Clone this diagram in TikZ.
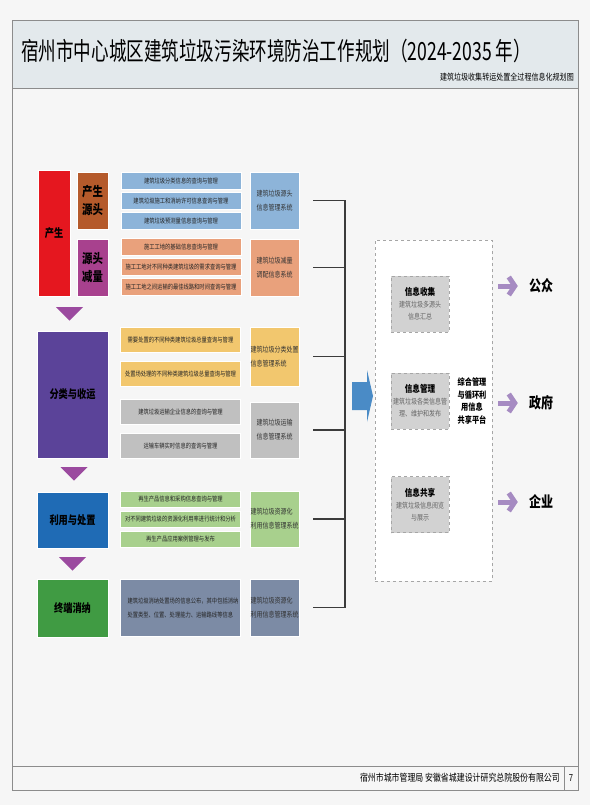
\documentclass[tikz,border=0pt]{standalone}
\usepackage{fontspec}
\setmainfont[FakeStretch=0.8]{Noto Sans CJK SC}
\newfontfamily\titlefont[FakeStretch=0.703]{Noto Sans CJK SC}
\usepackage{xcolor}
\usetikzlibrary{shapes.geometric, arrows.meta, positioning}
\definecolor{pagebg}{RGB}{246,246,246}
\definecolor{titlebg}{RGB}{227,233,236}
\definecolor{framegray}{RGB}{140,140,140}
\definecolor{stagered}{RGB}{229,23,31}
\definecolor{stagebrown}{RGB}{181,90,43}
\definecolor{stagemagenta}{RGB}{168,65,142}
\definecolor{stagepurple}{RGB}{91,67,153}
\definecolor{stageblue}{RGB}{31,107,181}
\definecolor{stagegreen}{RGB}{64,155,67}
\definecolor{itemblue}{RGB}{141,180,217}
\definecolor{itemorange}{RGB}{233,161,124}
\definecolor{itemyellow}{RGB}{242,199,110}
\definecolor{itemgray}{RGB}{192,192,192}
\definecolor{itemgreen}{RGB}{168,208,141}
\definecolor{itemslate}{RGB}{124,139,165}
\definecolor{tripurple}{RGB}{155,74,159}
\definecolor{feedblue}{RGB}{74,139,198}
\definecolor{outpurple}{RGB}{166,139,194}
\definecolor{infogray}{RGB}{210,210,210}
\definecolor{linegray}{RGB}{60,60,60}

\begin{document}
\begin{tikzpicture}[x=1pt, y=-1pt,
    stage/.style={rectangle, draw=white, line width=0.6pt, inner sep=0pt, align=center, font=\fontsize{11.5}{18}\selectfont\bfseries},
    item/.style={rectangle, draw=white, line width=0.6pt, minimum width=120pt, inner sep=0pt, text=black!85, font=\fontsize{6.6}{8}\selectfont},
    sysbox/.style={rectangle, draw=white, line width=0.6pt, minimum width=49pt, inner sep=0pt, text=black!80, font=\fontsize{7.5}{14}\selectfont},
    link/.style={draw=linegray, line width=1.5pt},
    infobox/.style={rectangle, draw=gray!70, dashed, fill=infogray, minimum width=58pt, minimum height=56pt, inner sep=0pt, align=center, text=black!60, font=\fontsize{7.5}{12}\selectfont},
    target/.style={inner sep=0pt, font=\fontsize{15}{16}\selectfont\bfseries},
    outarrow/.style={draw=outpurple, line width=5pt, -{Straight Barb[length=6pt, width=18pt]}}]

    \useasboundingbox[fill=pagebg] (0,0) rectangle (590,805);
    \draw[framegray, line width=0.8pt] (12,20) rectangle (578,790);
    \draw[framegray, line width=0.8pt, fill=titlebg] (12,20) rectangle (578,88);
    \draw[framegray, line width=0.8pt] (12,766) -- (578,766);
    \draw[framegray, line width=0.8pt] (564,766) -- (564,790);

    \node[anchor=west, inner sep=0pt, font=\titlefont\fontsize{25}{28}\selectfont] (title) at (21,51) {宿州市中心城区建筑垃圾污染环境防治工作规划（2024-2035 年）};
    \node[anchor=east, inner sep=0pt, font=\fontsize{8.8}{10}\selectfont] (subtitle) at (574,77) {建筑垃圾收集转运处置全过程信息化规划图};
    \node[anchor=east, inner sep=0pt, font=\fontsize{9.9}{10}\selectfont] (org) at (560,778) {宿州市城市管理局 安徽省城建设计研究总院股份有限公司};
    \node[inner sep=0pt, font=\fontsize{9.6}{10}\selectfont] (page) at (571,778) {7};

    \node[stage, fill=stagered, minimum width=32pt, minimum height=126pt] (prod) at (54,233) {产生};
    \node[stage, fill=stagebrown, minimum width=31pt, minimum height=57pt, font=\fontsize{13}{18}\selectfont\bfseries] (src) at (92.5,200.5) {产生\\源头};
    \node[stage, fill=stagemagenta, minimum width=31pt, minimum height=57pt, font=\fontsize{13}{18}\selectfont\bfseries] (cut) at (92.5,267.5) {源头\\减量};

    \node[item, fill=itemblue, minimum height=17pt] (b1) at (181,180.5) {建筑垃圾分类信息的查询与管理};
    \node[item, fill=itemblue, minimum height=17pt] (b2) at (181,200.5) {建筑垃圾施工和消纳许可信息查询与管理};
    \node[item, fill=itemblue, minimum height=17pt] (b3) at (181,220.5) {建筑垃圾预测量信息查询与管理};
    \node[item, fill=itemorange, minimum height=17pt] (o1) at (181,247) {施工工地的基础信息查询与管理};
    \node[item, fill=itemorange, minimum height=17pt] (o2) at (181,267) {施工工地对不同种类建筑垃圾的需求查询与管理};
    \node[item, fill=itemorange, minimum height=17pt] (o3) at (181,287) {施工工地之间运输的最佳线路和时间查询与管理};
    \node[sysbox, fill=itemblue, minimum height=57pt, align=center] (sysA) at (274.5,200.5) {建筑垃圾源头\\信息管理系统};
    \node[sysbox, fill=itemorange, minimum height=57pt, align=center] (sysB) at (274.5,267.5) {建筑垃圾减量\\调配信息系统};

    \node[stage, fill=stagepurple, minimum width=71pt, minimum height=127pt] (sort) at (72.5,394.5) {分类与收运};
    \node[item, fill=itemyellow, minimum height=25pt] (y1) at (180.5,339.5) {需要处置的不同种类建筑垃圾总量查询与管理};
    \node[item, fill=itemyellow, minimum height=25pt] (y2) at (180.5,373.5) {处置场处理的不同种类建筑垃圾总量查询与管理};
    \node[item, fill=itemgray, minimum height=25pt] (g1) at (180.5,411.5) {建筑垃圾运输企业信息的查询与管理};
    \node[item, fill=itemgray, minimum height=25pt] (g2) at (180.5,445.5) {运输车辆实时信息的查询与管理};
    \node[sysbox, fill=itemyellow, minimum height=59pt, align=left] (sysC) at (274.5,356.5) {建筑垃圾分类处置\\信息管理系统};
    \node[sysbox, fill=itemgray, minimum height=56pt, align=center] (sysD) at (274.5,430) {建筑垃圾运输\\信息管理系统};

    \node[stage, fill=stageblue, minimum width=71pt, minimum height=56pt] (use) at (72.5,520) {利用与处置};
    \node[item, fill=itemgreen, minimum height=16pt] (gr1) at (180.5,499) {再生产品信息和采购信息查询与管理};
    \node[item, fill=itemgreen, minimum height=16pt] (gr2) at (180.5,519) {对不同建筑垃圾的资源化利用率进行统计和分析};
    \node[item, fill=itemgreen, minimum height=16pt] (gr3) at (180.5,539) {再生产品应用案例管理与发布};
    \node[sysbox, fill=itemgreen, minimum height=56pt, align=left] (sysE) at (274.5,519) {建筑垃圾资源化\\利用信息管理系统};

    \node[stage, fill=stagegreen, minimum width=71pt, minimum height=58pt] (fin) at (72.5,608) {终端消纳};
    \node[item, fill=itemslate, minimum height=57pt, align=left, text width=106pt, font=\fontsize{6.6}{14}\selectfont] (sl) at (180.5,607.5) {建筑垃圾消纳处置场的信息公布，其中包括消纳\\处置类型、位置、处理能力、运输路线等信息};
    \node[sysbox, fill=itemslate, minimum height=57pt, align=left] (sysF) at (274.5,607.5) {建筑垃圾资源化\\利用信息管理系统};

    \foreach \tx/\ty in {69.5/307, 74/467, 72.5/557}
        \fill[tripurple] (\tx-13.5,\ty) -- (\tx+13.5,\ty) -- (\tx,\ty+13.5) -- cycle;

    \coordinate (bus) at (345,0);
    \foreach \s in {sysA,sysB,sysC,sysD,sysE,sysF}
        \draw[link] ([xshift=14pt]\s.east) -- (\s.east -| bus);
    \draw[link, line cap=rect] (sysA.east -| bus) -- (sysF.east -| bus);

    \fill[feedblue] (352,382) -- (367,382) -- (367,370) -- (373,396) -- (367,422) -- (367,410) -- (352,410) -- cycle;

    \node[draw=gray!70, dashed, fill=white, minimum width=117pt, minimum height=341pt, inner sep=0pt] (plat) at (433.5,410.5) {};
    \node[infobox] (collect) at (420,304) {{\fontsize{9.5}{12}\selectfont\bfseries\color{black}信息收集}\\建筑垃圾多源头\\信息汇总};
    \node[infobox] (manage) at (420,401) {{\fontsize{9.5}{12}\selectfont\bfseries\color{black}信息管理}\\建筑垃圾各类信息管\\理、维护和发布};
    \node[infobox] (share) at (420,504.5) {{\fontsize{9.5}{12}\selectfont\bfseries\color{black}信息共享}\\建筑垃圾信息阅览\\与展示};
    \node[inner sep=0pt, align=center, font=\fontsize{9}{12.7}\selectfont\bfseries] (hub) at (472,401) {综合管理\\与循环利\\用信息\\共享平台};

    \node[target] (pub) at (541,286) {公众};
    \node[target] (gov) at (541,403) {政府};
    \node[target] (ent) at (541,502) {企业};
    \draw[outarrow] ([xshift=6pt]pub -| plat.east) -- ([xshift=-11pt]pub.west);
    \draw[outarrow] ([xshift=6pt]gov -| plat.east) -- ([xshift=-11pt]gov.west);
    \draw[outarrow] ([xshift=6pt]ent -| plat.east) -- ([xshift=-11pt]ent.west);
\end{tikzpicture}
\end{document}
